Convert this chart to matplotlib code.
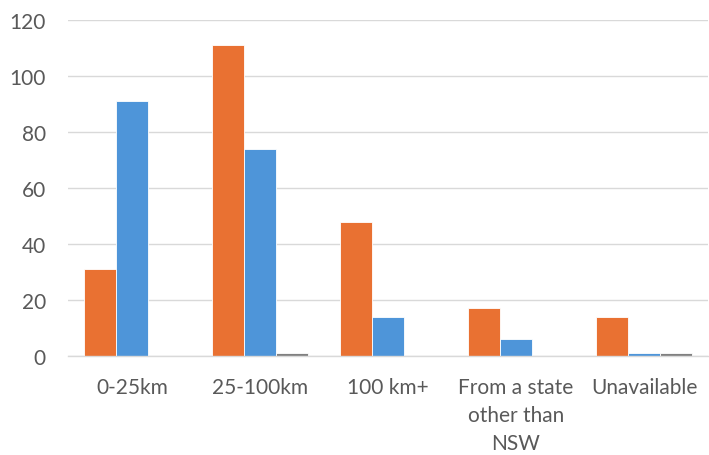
import matplotlib
matplotlib.use("Agg")
import matplotlib.pyplot as plt
import numpy as np

categories = ["0-25km", "25-100km", "100 km+", "From a state\nother than\nNSW", "Unavailable"]
series_orange = [31, 111, 48, 17, 14]
series_blue = [91, 74, 14, 6, 1]
series_gray = [0, 1, 0, 0, 1]
y_ticks = [0, 20, 40, 60, 80, 100, 120]

plt.rcParams["font.family"] = ["Lato", "DejaVu Sans"]

W, H = 709, 456
fig = plt.figure(figsize=(W / 100, H / 100), dpi=100)
ax = fig.add_axes([68 / W, 1 - 357 / H, (708 - 68) / W, (357 - 21) / H])

x = np.arange(len(categories))
bw = 0.25
colors = ["#E97132", "#4E95D9", "#808080"]
for i, (vals, c) in enumerate(zip([series_orange, series_blue, series_gray], colors)):
    ax.bar(x + (i - 1) * bw, vals, width=bw, color=c, edgecolor="white",
           linewidth=0.6, zorder=3)

ax.set_xlim(-0.5, len(categories) - 0.5)
ax.set_ylim(0, 120)
ax.set_yticks(y_ticks)
ax.set_xticks(x)
ax.set_xticklabels(categories, linespacing=1.5)
ax.grid(axis="y", color="#D9D9D9", linewidth=1, zorder=0)
for s in ["top", "right", "left"]:
    ax.spines[s].set_visible(False)
ax.spines["bottom"].set_color("#D9D9D9")
ax.spines["bottom"].set_linewidth(1)
ax.spines["bottom"].set_zorder(4)
ax.tick_params(axis="both", length=0, labelsize=15, labelcolor="#595959")
ax.tick_params(axis="y", pad=16)
ax.tick_params(axis="x", pad=15)
ax.set_yticklabels([str(t) for t in y_ticks], ha="right")

fig.savefig("out.png", dpi=100)
